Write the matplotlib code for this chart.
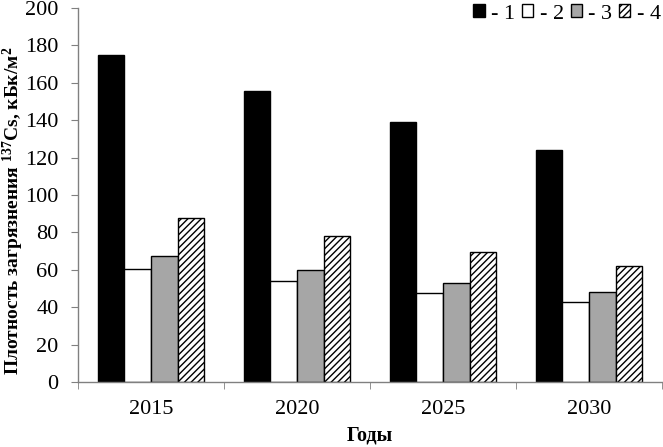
import matplotlib
matplotlib.use("Agg")
import matplotlib.pyplot as plt
import numpy as np
from matplotlib.patches import Patch

years = ["2015", "2020", "2025", "2030"]
series_labels = ["- 1", "- 2", "- 3", "- 4"]
s1 = [175, 155.5, 139, 124]
s2 = [60.5, 54, 47.5, 43]
s3 = [67.5, 60, 53, 48]
s4 = [87.5, 78, 69.5, 62]
yticks = [0, 20, 40, 60, 80, 100, 120, 140, 160, 180, 200]

plt.rcParams['font.family'] = ['Liberation Serif', 'DejaVu Serif']
plt.rcParams['hatch.linewidth'] = 1.0
plt.rcParams['mathtext.fontset'] = 'custom'
plt.rcParams['mathtext.bf'] = 'Liberation Serif:bold'
plt.rcParams['mathtext.rm'] = 'Liberation Serif'
plt.rcParams['mathtext.it'] = 'Liberation Serif:italic'

fig = plt.figure(figsize=(6.63, 4.47), dpi=100)
ax = fig.add_axes([78/663, 1-382/447, 584/663, 374/447])

x = np.arange(len(years))
w = 1/5.5
styles = [
    dict(color='black', edgecolor='black'),
    dict(color='white', edgecolor='black'),
    dict(color='#a6a6a6', edgecolor='black'),
    dict(color='white', edgecolor='black', hatch='/////'),
]
data = [s1, s2, s3, s4]
handles = []
for i, (vals, st) in enumerate(zip(data, styles)):
    ax.bar(x + (i - 1.5) * w, vals, width=w, linewidth=1.0, **st)
    handles.append(Patch(facecolor=st['color'], edgecolor='black', hatch=st.get('hatch'), linewidth=1.0))

ax.set_xlim(-0.5, len(years) - 0.5)
ax.set_ylim(0, 200)
ax.set_yticks(yticks)
ax.set_yticklabels([str(t) for t in yticks], fontsize=16)
ax.set_xticks(x)
ax.set_xticklabels(years, fontsize=16)
ax.tick_params(axis='x', length=0, pad=13)
ax.set_xticks(np.arange(-0.5, len(years)), minor=True)
ax.tick_params(axis='x', which='minor', length=5, color='#808080', direction='out')
ax.tick_params(axis='y', length=5, color='#808080', direction='out', pad=9)

for sp in ['top', 'right']:
    ax.spines[sp].set_visible(False)
for sp in ['left', 'bottom']:
    ax.spines[sp].set_color('#808080')
    ax.spines[sp].set_linewidth(1.0)

fig.text(1/663, 1-211/447, r'Плотность загрязнения $^{\mathbf{137}}$Cs, кБк/м$^{\mathbf{2}}$',
         fontsize=14, fontweight='bold', rotation=90, ha='left', va='center')
fig.text(370/663, 1-436/447, 'Годы', fontsize=14.5, fontweight='bold', ha='center', va='center')

leg = fig.legend(handles, series_labels, loc='upper right', bbox_to_anchor=(1.027, 1.035),
                 ncol=4, frameon=False, fontsize=16, handlelength=0.5, handleheight=0.5,
                 handletextpad=0.3, columnspacing=0.3)

fig.savefig("out.png", dpi=100)
